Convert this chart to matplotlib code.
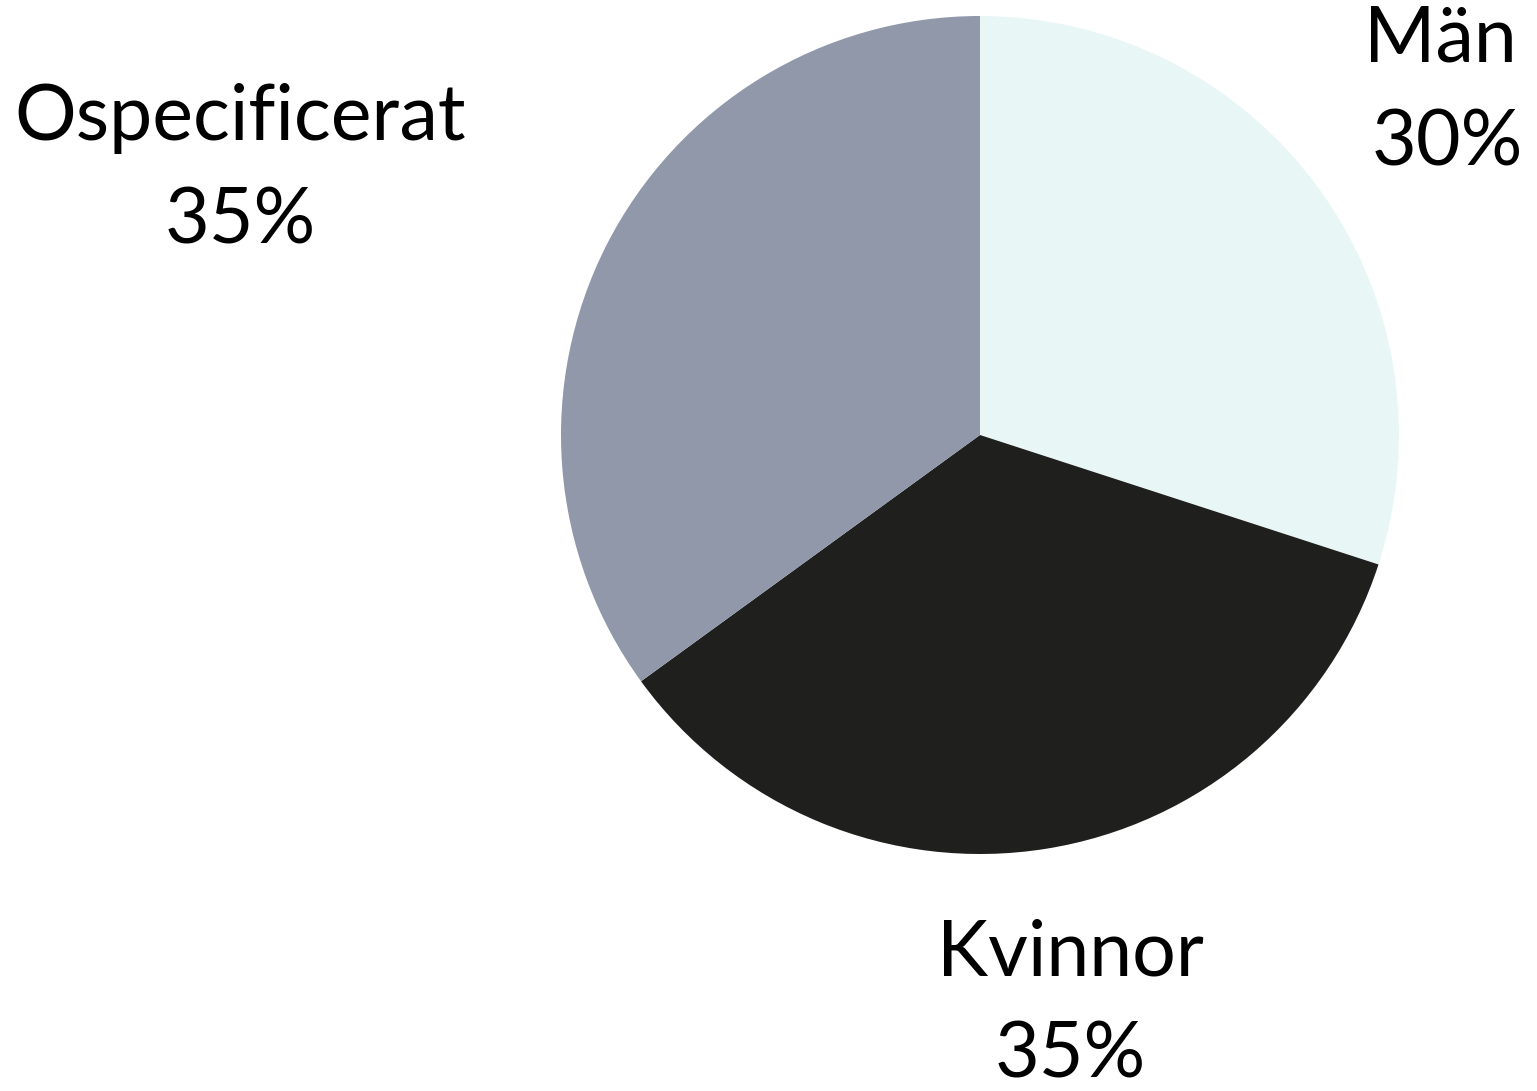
import matplotlib.pyplot as plt

labels = ['Män', 'Kvinnor', 'Ospecificerat']
shares = [30, 35, 35]
colors = ['#e9f6f6', '#1f1f1d', '#9098aa']

# label anchor (x center, baseline of first line) in pixel space, y from top
label_pos = [(1440, 62), (1070, 975), (240, 140)]
value_x = [1447, 1070, 240]

W, H = 1537, 1091
fig = plt.figure(figsize=(W / 100, H / 100), dpi=100)
ax = fig.add_axes([0, 0, 1, 1])

ax.pie(shares, colors=colors, startangle=90, counterclock=False,
       center=(980, H - 435), radius=419, frame=True,
       wedgeprops=dict(linewidth=0))
ax.set_xlim(0, W)
ax.set_ylim(0, H)
ax.set_aspect('equal')
ax.axis('off')

for lab, val, (x, y), vx in zip(labels, shares, label_pos, value_x):
    ax.text(x, H - y, lab, ha='center', va='baseline', fontsize=55.5,
            family='Lato', color='black')
    ax.text(vx, H - y - 103, f'{val}%', ha='center', va='baseline',
            fontsize=55.5, family='Lato', color='black')

fig.savefig('out.png', dpi=100)
